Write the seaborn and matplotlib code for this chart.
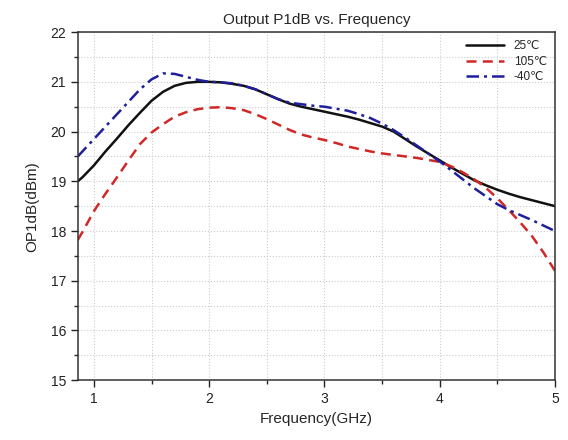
import numpy as np
import pandas as pd
import matplotlib
matplotlib.use("Agg")
import matplotlib.pyplot as plt
import seaborn as sns
from matplotlib.ticker import MultipleLocator

freq = [0.86, 0.9, 1.0, 1.1, 1.2, 1.3, 1.4, 1.5, 1.6, 1.7, 1.8, 1.9, 2.0, 2.1, 2.2, 2.3, 2.4, 2.5,
        2.6, 2.7, 2.8, 2.9, 3.0, 3.1, 3.2, 3.3, 3.4, 3.5, 3.6, 3.7, 3.8, 3.9, 4.0, 4.1, 4.2, 4.3,
        4.4, 4.5, 4.6, 4.7, 4.8, 4.9, 5.0]
p_25 = [19.0, 19.08, 19.32, 19.6, 19.86, 20.13, 20.38, 20.62, 20.8, 20.92, 20.98, 21.0, 21.0, 20.99,
        20.96, 20.92, 20.85, 20.75, 20.65, 20.56, 20.5, 20.45, 20.4, 20.35, 20.3, 20.24, 20.17, 20.1,
        20.0, 19.85, 19.7, 19.56, 19.42, 19.28, 19.15, 19.02, 18.92, 18.83, 18.75, 18.68, 18.62,
        18.56, 18.5]
p_105 = [17.82, 17.98, 18.4, 18.75, 19.08, 19.42, 19.75, 19.98, 20.15, 20.3, 20.39, 20.45, 20.48,
         20.49, 20.47, 20.43, 20.35, 20.25, 20.14, 20.03, 19.94, 19.88, 19.83, 19.77, 19.7, 19.65,
         19.6, 19.56, 19.53, 19.5, 19.47, 19.43, 19.39, 19.3, 19.18, 19.04, 18.87, 18.66, 18.42,
         18.17, 17.9, 17.57, 17.2]
p_m40 = [19.5, 19.6, 19.85, 20.1, 20.35, 20.6, 20.85, 21.05, 21.17, 21.16, 21.1, 21.04, 21.0, 20.99,
         20.97, 20.92, 20.85, 20.75, 20.65, 20.58, 20.55, 20.52, 20.5, 20.46, 20.42, 20.35, 20.27,
         20.16, 20.03, 19.88, 19.72, 19.56, 19.4, 19.22, 19.04, 18.86, 18.7, 18.54, 18.42, 18.32,
         18.22, 18.11, 18.0]
labels = ["25℃", "105℃", "-40℃"]

df = pd.concat([
    pd.DataFrame({"freq": freq, "p1db": p, "temp": lab})
    for p, lab in zip([p_25, p_105, p_m40], labels)
])

sns.set_style("ticks")
plt.rcParams["font.family"] = ["Liberation Sans", "DejaVu Sans"]

fig = plt.figure(figsize=(5.68, 4.40), dpi=100)
ax = fig.add_axes([0.137, 0.136, 0.840, 0.791])

palette = {"25℃": "#111111", "105℃": "#d02828", "-40℃": "#1f1f9a"}
dashes = {"25℃": "", "105℃": (4, 2.5), "-40℃": (5, 2, 1.2, 2)}
sns.lineplot(data=df, x="freq", y="p1db", hue="temp", style="temp",
             palette=palette, dashes=dashes, linewidth=1.8, ax=ax,
             hue_order=labels, style_order=labels)

ax.set_xlim(0.86, 5.0)
ax.set_ylim(15, 22)
ax.xaxis.set_major_locator(MultipleLocator(1))
ax.xaxis.set_minor_locator(MultipleLocator(0.5))
ax.yaxis.set_major_locator(MultipleLocator(1))
ax.yaxis.set_minor_locator(MultipleLocator(0.5))
ax.grid(which="both", color="#cccccc", linestyle=":", linewidth=0.8)
ax.tick_params(which="major", direction="out", length=5, width=1, labelsize=10, colors="#222222")
ax.tick_params(which="minor", direction="out", length=3, width=1)
ax.tick_params(top=False, right=False, which="both")
for s in ax.spines.values():
    s.set_visible(True)
    s.set_color("#333333")
    s.set_linewidth(1.1)

ax.set_title("Output P1dB vs. Frequency", fontsize=11, pad=6)
ax.set_xlabel("Frequency(GHz)", fontsize=11)
ax.set_ylabel("OP1dB(dBm)", fontsize=11, labelpad=8)

leg = ax.legend(loc="upper right", frameon=False, fontsize=8.5, handlelength=3.2,
                borderaxespad=0.3, labelspacing=0.3, title=None)

fig.savefig("out.png", dpi=100)
